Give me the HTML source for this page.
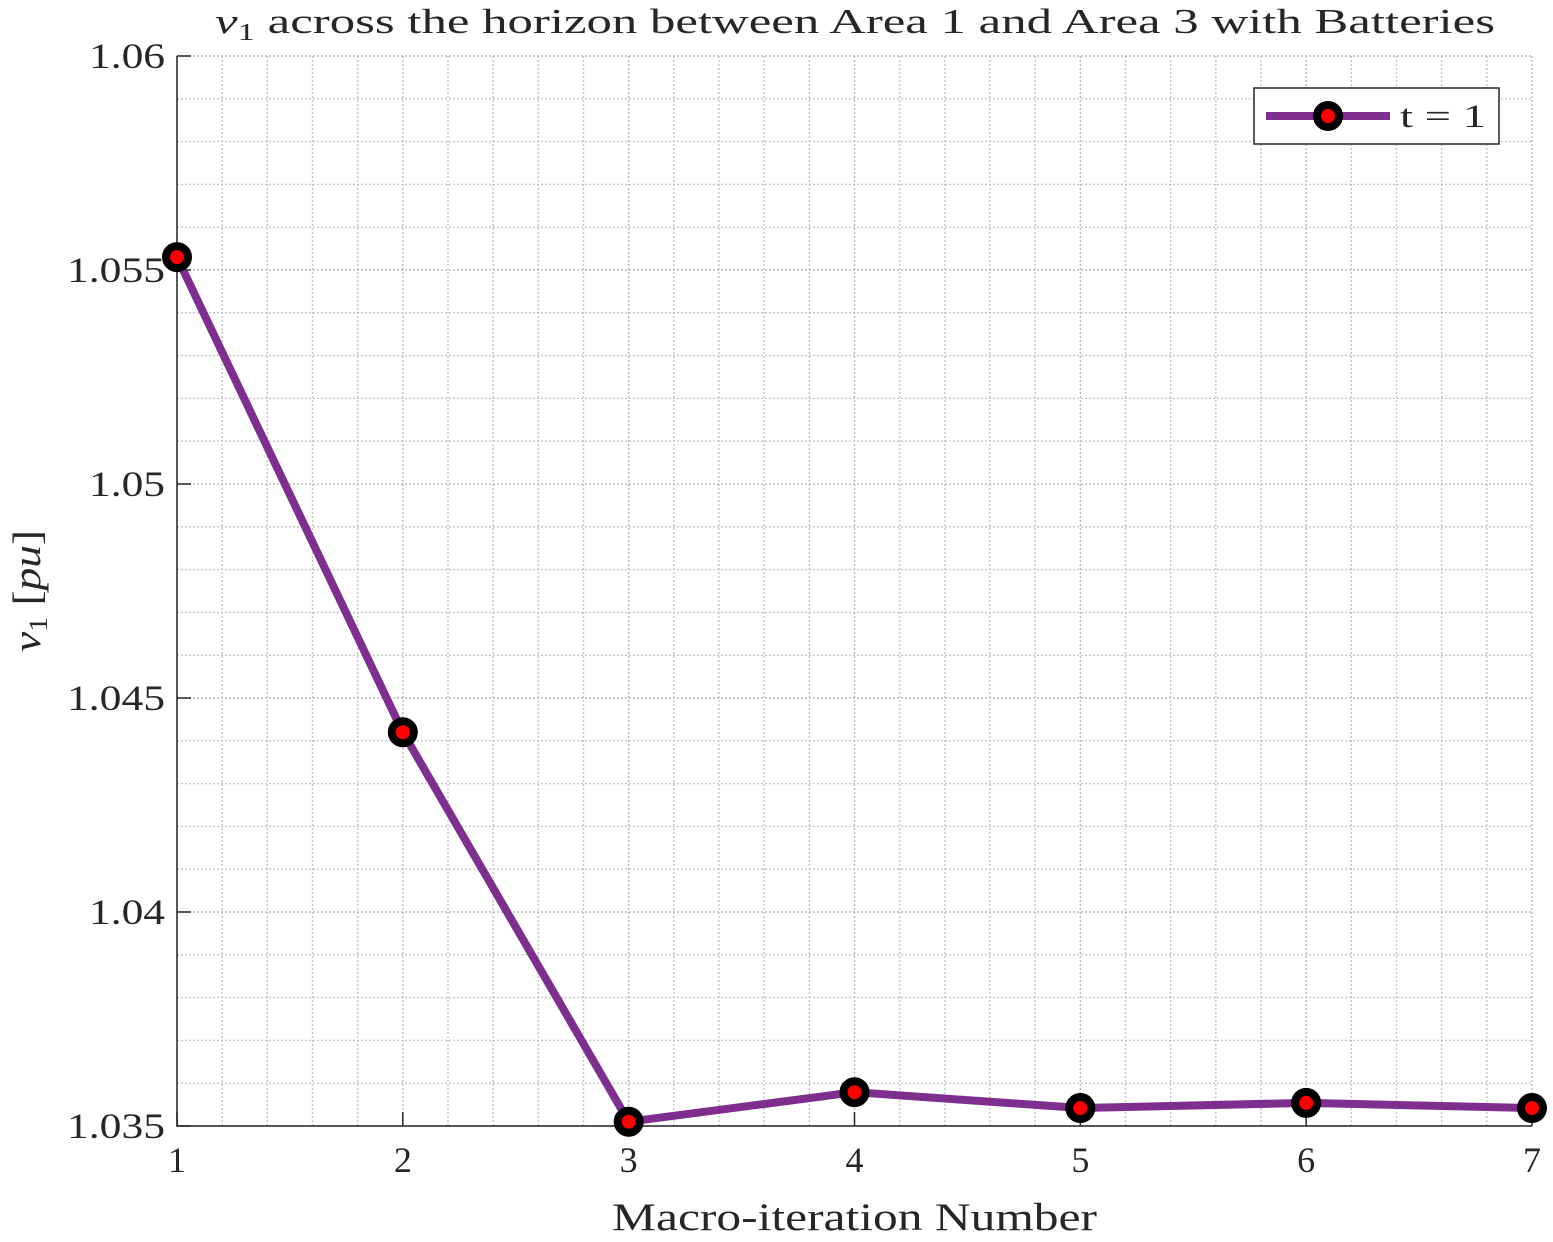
<!DOCTYPE html>
<html><head><meta charset="utf-8"><style>
body{margin:0;background:#fff}
svg text{font-family:"Liberation Serif","DejaVu Serif",serif;fill:#262626}
</style></head><body>
<svg id="chart" width="1553" height="1237" viewBox="0 0 1553 1237" xmlns="http://www.w3.org/2000/svg">
<rect width="1553" height="1237" fill="#fff"/>
<g id="grid"></g>
<g id="axes"></g>
<g id="series"></g>
<text x="215" y="33" font-size="35" textLength="1280" lengthAdjust="spacingAndGlyphs"><tspan font-style="italic">v</tspan><tspan font-size="24" dy="7">1</tspan><tspan dy="-7"> across the horizon between Area 1 and Area 3 with Batteries</tspan></text>
<text x="612" y="1230" font-size="39" textLength="485" lengthAdjust="spacingAndGlyphs">Macro-iteration Number</text>
<text transform="translate(40,652) rotate(-90)" font-size="39" textLength="122" lengthAdjust="spacingAndGlyphs"><tspan font-style="italic">v</tspan><tspan font-size="26" dy="7">1</tspan><tspan dy="-7"> [</tspan><tspan font-style="italic">pu</tspan><tspan>]</tspan></text>
<g>
<rect x="1254" y="88" width="245" height="56" fill="#fff" stroke="#262626" stroke-width="1.5"/>
<line x1="1266" y1="116" x2="1390" y2="116" stroke="#7e2f8e" stroke-width="8"/>
<circle cx="1328" cy="116" r="11" fill="#ff0000" stroke="#000" stroke-width="8"/>
<text x="1400" y="127" font-size="33" textLength="86" lengthAdjust="spacingAndGlyphs">t = 1</text>
</g>
</svg>
<script>
const xCats=[1,2,3,4,5,6,7];
const yVals=[1.0553,1.0442,1.0351,1.03579,1.03542,1.03554,1.03542];
const yTicks=[1.035,1.04,1.045,1.05,1.055,1.06];
const yTickLabels=["1.035","1.04","1.045","1.05","1.055","1.06"];
const X0=177,X1=1532,Y0=1126,Y1=56;
const xmin=1,xmax=7,ymin=1.035,ymax=1.06;
const sx=v=>X0+(v-xmin)/(xmax-xmin)*(X1-X0);
const sy=v=>Y0-(v-ymin)/(ymax-ymin)*(Y0-Y1);
const NS="http://www.w3.org/2000/svg";
function mk(t,a,p){const e=document.createElementNS(NS,t);for(const k in a)e.setAttribute(k,a[k]);p.appendChild(e);return e;}
const grid=document.getElementById('grid'),axes=document.getElementById('axes'),ser=document.getElementById('series');
for(let i=0;i<=30;i++){const x=sx(xmin+i*0.2);const l=mk('line',{x1:x,x2:x,y1:Y1,y2:Y0,stroke:i%5?'#c4c4c4':'#b8b8b8','stroke-width':1.4,'stroke-dasharray':'2,2'},grid);

}
for(let i=0;i<=25;i++){const y=sy(ymin+i*0.001);const l=mk('line',{x1:X0,x2:X1,y1:y,y2:y,stroke:i%5?'#c4c4c4':'#b8b8b8','stroke-width':1.4,'stroke-dasharray':'2,2'},grid);

}
const ax=mk('path',{d:`M${X0},${Y1}V${Y0}H${X1}`,fill:'none',stroke:'#262626','stroke-width':1.5},axes);


xCats.forEach(v=>{const x=sx(v);
const t=mk('line',{x1:x,x2:x,y1:Y0,y2:Y0-14,stroke:'#262626','stroke-width':1.5},axes);


const tx=mk('text',{x:x,y:Y0+46,'text-anchor':'middle','font-size':36},axes);tx.textContent=v;

});
yTicks.forEach((v,i)=>{const y=sy(v);
const t=mk('line',{x1:X0,x2:X0+14,y1:y,y2:y,stroke:'#262626','stroke-width':1.5},axes);


const lab=yTickLabels[i];
const w=lab.length===5?98:76;
const tx=mk('text',{x:X0-12-w,y:y+12,'font-size':36,textLength:w,lengthAdjust:'spacingAndGlyphs'},axes);tx.textContent=lab;

});
const pl=mk('polyline',{points:xCats.map((c,i)=>sx(c)+','+sy(yVals[i])).join(' '),fill:'none',stroke:'#7e2f8e','stroke-width':8,'stroke-linejoin':'round'},ser);


xCats.forEach((c,i)=>{const m=mk('circle',{cx:sx(c),cy:sy(yVals[i]),r:11,fill:'#ff0000',stroke:'#000','stroke-width':8},ser);

});
</script>
</body></html>
